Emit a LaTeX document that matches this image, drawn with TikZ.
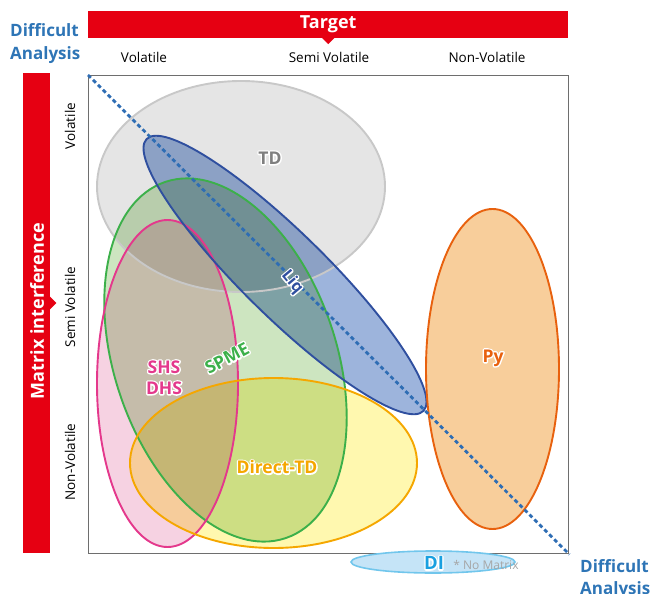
\documentclass[tikz,border=0pt]{standalone}
\usepackage{fontspec}
\setmainfont{Open Sans}
\definecolor{cred}{HTML}{E60012}
\definecolor{cblue}{HTML}{2E75B6}
\definecolor{cdashc}{HTML}{2E6DB4}
\definecolor{tdfill}{HTML}{E5E5E5}
\definecolor{tdline}{HTML}{C8C8C8}
\definecolor{tdtext}{HTML}{7F7F7F}
\definecolor{spfill}{HTML}{CDE5C0}
\definecolor{spline}{HTML}{3CB04A}
\definecolor{shfill}{HTML}{F6D2E2}
\definecolor{shline}{HTML}{E4388C}
\definecolor{dtfill}{HTML}{FFF8AF}
\definecolor{dtline}{HTML}{F5A700}
\definecolor{lqfill}{HTML}{9DB4DC}
\definecolor{lqline}{HTML}{2F4F9F}
\definecolor{pyfill}{HTML}{F8CE9B}
\definecolor{pyline}{HTML}{E8610E}
\definecolor{difill}{HTML}{C5E4F7}
\definecolor{diline}{HTML}{71C6EC}
\definecolor{ditext}{HTML}{1AA0E0}
\definecolor{nmtext}{HTML}{A6A6A6}
\definecolor{boxc}{HTML}{6E6E6E}
\newcommand\halotext[1]{\makebox[0pt][l]{\color{white}\special{pdf:literal direct 2.8 w 1 J 1 j 2 Tr}#1\special{pdf:literal direct 0 Tr}}#1}
\begin{document}
\begin{tikzpicture}[x=1pt,y=1pt,
  redbar/.style={fill=cred,draw=none,inner sep=0pt},
  bartext/.style={text=white,font=\bfseries\fontsize{18}{21}\selectfont},
  axlabel/.style={text=black,font=\fontsize{13.5}{16}\selectfont,inner sep=0pt},
  hard/.style={text=cblue,font=\bfseries\fontsize{17}{20}\selectfont,inner sep=0pt,anchor=base west},
  blob/.style={line width=1.9pt},
  lbl/.style={font=\bfseries\fontsize{17.5}{20}\selectfont,inner sep=0pt}]
\useasboundingbox (0,0) rectangle (651,-594);
% bars
\node[redbar,minimum width=480pt,minimum height=26.5pt,anchor=north west] (topbar) at (88,-11) {};
\fill[cred] (topbar.south) ++(-6.5,0.2) -- ++(13,0) -- ++(-6.5,-6.5) -- cycle;
\node[bartext] (target) at (topbar.center) {Target};
\node[redbar,minimum width=27pt,minimum height=480pt,anchor=north west] (leftbar) at (23,-73) {};
\fill[cred] (49.8,-296.5) -- (56.3,-303) -- (49.8,-309.5) -- cycle;
\node[bartext,rotate=90] (matrix) at (37,-311) {Matrix interference};
% axis labels
\node[axlabel] (cvol) at (144,-57) {Volatile};
\node[axlabel] (csemi) at (329,-57) {Semi Volatile};
\node[axlabel] (cnon) at (487,-57) {Non-Volatile};
\node[axlabel,rotate=90] (rvol) at (70,-126) {Volatile};
\node[axlabel,rotate=90] (rsemi) at (70,-307) {Semi Volatile};
\node[axlabel,rotate=90] (rnon) at (70,-462) {Non-Volatile};
\node[hard] (hard1a) at (10,-37) {Difficult};
\node[hard] (hard1b) at (10,-60) {Analysis};
\node[hard] (hard2a) at (580,-572.5) {Difficult};
\node[hard] (hard2b) at (580,-594) {Analysis};
% plot box
\node[draw=boxc,line width=1.4pt,minimum width=480pt,minimum height=478pt,anchor=north west,inner sep=0pt] (plot) at (88,-75) {};
% ellipse fills
\begin{scope}[blend group=multiply]
\fill[tdfill] (241,-186.5) ellipse [x radius=144, y radius=105.5];
\fill[spfill] (225.5,-360) circle [x radius=111, y radius=188, rotate=18.7];
\fill[shfill] (167.5,-383.5) ellipse [x radius=70.5, y radius=163.5];
\fill[dtfill] (273.5,-463) ellipse [x radius=143.5, y radius=85];
\fill[lqfill] (285,-275) circle [x radius=194, y radius=42, rotate=-44.5];
\fill[pyfill] (492.5,-369) ellipse [x radius=66.5, y radius=160];
\end{scope}
% ellipse borders
\draw[blob,tdline] (241,-186.5) ellipse [x radius=144, y radius=105.5];
\draw[blob,spline] (225.5,-360) circle [x radius=111, y radius=188, rotate=18.7];
\draw[blob,shline] (167.5,-383.5) ellipse [x radius=70.5, y radius=163.5];
\draw[blob,dtline] (273.5,-463) ellipse [x radius=143.5, y radius=85];
\draw[blob,lqline] (285,-275) circle [x radius=194, y radius=42, rotate=-44.5];
\draw[blob,pyline] (492.5,-369) ellipse [x radius=66.5, y radius=160];
\filldraw[line width=1.6pt,fill=difill,draw=diline] (433,-562) ellipse [x radius=82, y radius=11];
% diagonal
\draw[cdashc,line width=2.8pt,dash pattern=on 4pt off 3pt] (plot.north west) -- (plot.south east);
% labels
\node[text=nmtext,font=\fontsize{12}{14}\selectfont,inner sep=0pt] (nomatrix) at (486,-565) {* No Matrix};
\node[lbl,text=tdtext] (td) at (270,-158) {\halotext{TD}};
\node[lbl,text=lqline,rotate=-50,font=\bfseries\fontsize{16}{19}\selectfont] (liq) at (292,-282) {\halotext{Liq}};
\node[lbl,text=spline,rotate=28] (spme) at (227,-358) {\halotext{SPME}};
\node[lbl,text=shline] (shs) at (164,-367) {\halotext{SHS}};
\node[lbl,text=shline] (dhs) at (164,-388) {\halotext{DHS}};
\node[lbl,text=dtline] (dtd) at (277,-467) {\halotext{Direct-TD}};
\node[lbl,text=pyline] (py) at (493,-358) {\halotext{Py}};
\node[lbl,text=ditext,font=\bfseries\fontsize{18.5}{21}\selectfont] (di) at (434,-563) {\halotext{DI}};
\end{tikzpicture}
\end{document}
